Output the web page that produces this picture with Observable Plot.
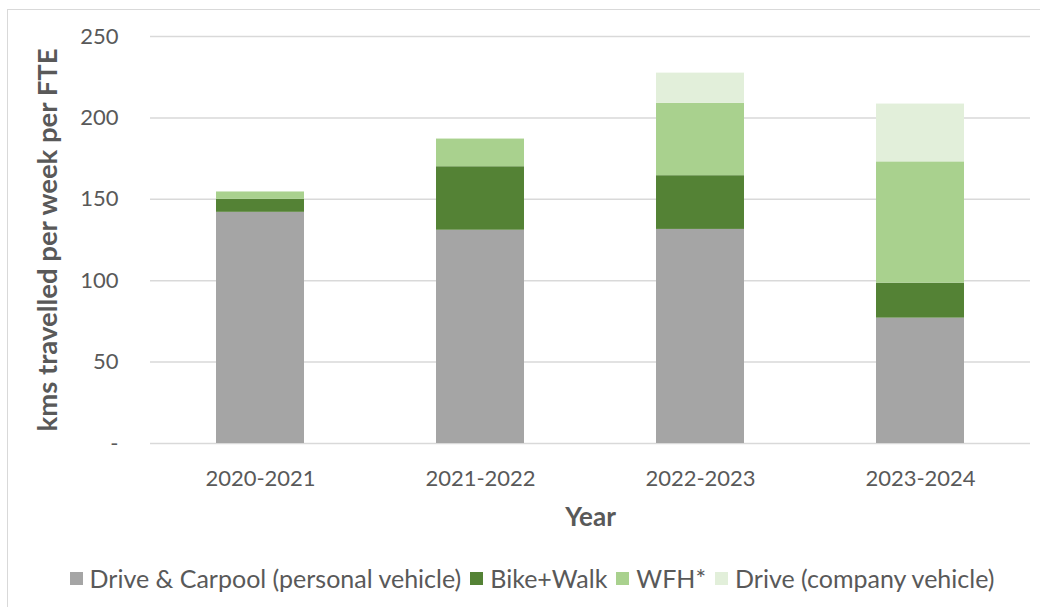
<!DOCTYPE html>
<html>
<head>
<meta charset="utf-8">
<script src="https://cdn.jsdelivr.net/npm/d3@7"></script>
<script src="https://cdn.jsdelivr.net/npm/@observablehq/plot@0.6"></script>
<style>
  html, body { margin: 0; padding: 0; background: #fff; }
  body { width: 1040px; height: 607px; position: relative; overflow: hidden; font-family: Lato, "Open Sans", sans-serif; }
  #frame { position: absolute; left: 7px; top: 9px; width: 1040px; height: 610px; border-left: 1px solid #d9d9d9; border-top: 1px solid #d9d9d9; box-sizing: border-box; pointer-events: none; }
  #chart { position: absolute; left: 0; top: 0; }
  #legend { position: absolute; left: 12px; top: 563px; width: 1040px; display: flex; justify-content: center; gap: 9px; font-size: 25px; line-height: 30px; color: #595959; font-family: Lato, sans-serif; }
  #legend .item { display: flex; align-items: center; gap: 7px; }
  #legend .sw { width: 13px; height: 13px; display: inline-block; }
</style>
</head>
<body>
<div id="frame"></div>
<div id="chart"></div>
<div id="legend"></div>
<script>
const years = ["2020-2021", "2021-2022", "2022-2023", "2023-2024"];
const series = ["Drive & Carpool (personal vehicle)", "Bike+Walk", "WFH*", "Drive (company vehicle)"];
const colors = ["#a5a5a5", "#548235", "#a9d18e", "#e2efda"];
const driveCarpool = [142, 131, 131.5, 77];
const bikeWalk = [8, 39, 33, 21.5];
const wfh = [4.5, 17, 44.5, 74.5];
const driveCompany = [0, 0, 18.5, 35.5];
const yTicks = [0, 50, 100, 150, 200, 250];

const valuesBySeries = [driveCarpool, bikeWalk, wfh, driveCompany];
const data = [];
series.forEach((s, i) => years.forEach((y, j) => data.push({year: y, series: s, value: valuesBySeries[i][j]})));

const chart = Plot.plot({
  width: 1040,
  height: 560,
  marginTop: 36,
  marginBottom: 117,
  marginLeft: 150,
  marginRight: 10,
  style: {fontFamily: "Lato, sans-serif", background: "transparent"},
  x: {domain: years, paddingInner: 0.6, paddingOuter: 0.3, label: null},
  y: {domain: [0, 250], label: null},
  color: {domain: series, range: colors},
  marks: [
    Plot.gridY(yTicks, {stroke: "#d9d9d9", strokeOpacity: 1, strokeWidth: 1.5}),
    Plot.barY(data, {x: "year", y: "value", fill: "series", order: series}),
    Plot.axisY(yTicks, {tickSize: 0, tickPadding: 32, fontSize: 22, fill: "#595959",
      tickFormat: d => d === 0 ? "-" : d3.format("d")(d), label: null}),
    Plot.axisX({tickSize: 0, tickPadding: 27, fontSize: 22, fill: "#595959", label: null}),
    Plot.text(["Year"], {frameAnchor: "bottom", dy: 82, fontSize: 26, fontWeight: "bold", fill: "#595959"}),
    Plot.text(["kms travelled per week per FTE"], {frameAnchor: "left", dx: -102, rotate: -90, textAnchor: "middle", fontSize: 27.5, fontWeight: "bold", fill: "#595959"})
  ]
});
document.getElementById("chart").appendChild(chart);

const legend = document.getElementById("legend");
series.forEach((s, i) => {
  const item = document.createElement("span");
  item.className = "item";
  const sw = document.createElement("span");
  sw.className = "sw";
  sw.style.background = colors[i];
  item.appendChild(sw);
  item.appendChild(document.createTextNode(s));
  legend.appendChild(item);
});
</script>
</body>
</html>
